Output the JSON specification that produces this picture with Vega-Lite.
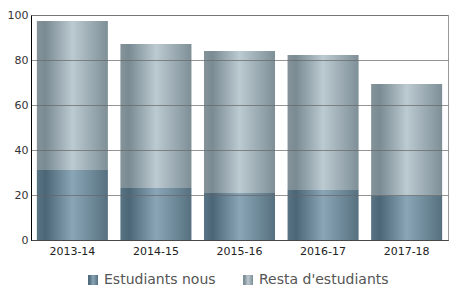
{
  "$schema": "https://vega.github.io/schema/vega-lite/v6.json",
  "autosize": "none",
  "width": 417,
  "height": 225,
  "padding": {"left": 31, "top": 15, "right": 8, "bottom": 65},
  "background": "white",
  "config": {
    "font": "DejaVu Sans",
    "view": {"stroke": "#999999", "strokeWidth": 1}
  },
  "data": {
    "values": [
      {"curs": "2013-14", "serie": "Estudiants nous", "valor": 31.1},
      {"curs": "2013-14", "serie": "Resta d'estudiants", "valor": 66.2},
      {"curs": "2014-15", "serie": "Estudiants nous", "valor": 23.1},
      {"curs": "2014-15", "serie": "Resta d'estudiants", "valor": 64.0},
      {"curs": "2015-16", "serie": "Estudiants nous", "valor": 20.9},
      {"curs": "2015-16", "serie": "Resta d'estudiants", "valor": 63.1},
      {"curs": "2016-17", "serie": "Estudiants nous", "valor": 22.2},
      {"curs": "2016-17", "serie": "Resta d'estudiants", "valor": 60.0},
      {"curs": "2017-18", "serie": "Estudiants nous", "valor": 19.9},
      {"curs": "2017-18", "serie": "Resta d'estudiants", "valor": 49.4}
    ]
  },
  "transform": [
    {"stack": "valor", "groupby": ["curs"], "sort": [{"field": "serie", "order": "ascending"}], "as": ["v0", "v1"]}
  ],
  "encoding": {
    "x": {
      "field": "curs", "type": "nominal",
      "scale": {"paddingInner": 0.15, "paddingOuter": 0.07},
      "axis": {"title": null, "labelAngle": 0, "ticks": false, "labelPadding": 5, "labelFontSize": 11, "labelColor": "#222222", "domainColor": "#000000", "grid": false}
    },
    "y": {
      "field": "v1", "type": "quantitative",
      "scale": {"domain": [0, 100], "nice": false},
      "axis": {"title": null, "values": [0, 20, 40, 60, 80, 100], "ticks": false, "labelPadding": 3, "labelFontSize": 11, "labelColor": "#333333", "domainColor": "#000000", "gridColor": "#666666", "gridOpacity": 0.7, "zindex": 1}
    },
    "y2": {"field": "v0"}
  },
  "layer": [
    {
      "transform": [{"filter": "datum.serie === 'Estudiants nous'"}],
      "mark": {"type": "bar", "strokeWidth": 0, "fill": {"gradient": "linear", "x1": 0, "y1": 0, "x2": 1, "y2": 0, "stops": [
          {"offset": 0, "color": "#587485"},
          {"offset": 0.12, "color": "#4b6677"},
          {"offset": 0.5, "color": "#8aa6b6"},
          {"offset": 1, "color": "#56707f"}
        ]}},
      "encoding": {
        "stroke": {
          "field": "serie", "type": "nominal",
          "scale": {"domain": ["Estudiants nous"], "range": ["#5f7b8c"]},
          "legend": {
            "title": null, "orient": "none", "direction": "horizontal",
            "legendX": 55, "legendY": 258,
            "symbolType": "square", "symbolSize": 100, "symbolStrokeWidth": 0,
            "labelFontSize": 14, "labelColor": "#555555", "labelOffset": 4,
            "encode": {"symbols": {"strokeWidth": {"value": 0}}}
          }
        }
      }
    },
    {
      "transform": [{"filter": "datum.serie === 'Resta d\\'estudiants'"}],
      "mark": {"type": "bar", "strokeWidth": 0, "fill": {"gradient": "linear", "x1": 0, "y1": 0, "x2": 1, "y2": 0, "stops": [
          {"offset": 0, "color": "#859399"},
          {"offset": 0.12, "color": "#7a8b93"},
          {"offset": 0.5, "color": "#bccad1"},
          {"offset": 1, "color": "#7e8f97"}
        ]}},
      "encoding": {
        "stroke": {
          "field": "serie", "type": "nominal",
          "scale": {"domain": ["Resta d'estudiants"], "range": ["#9cadb5"]},
          "legend": {
            "title": null, "orient": "none", "direction": "horizontal",
            "legendX": 210, "legendY": 258,
            "symbolType": "square", "symbolSize": 100, "symbolStrokeWidth": 0,
            "labelFontSize": 14, "labelColor": "#555555", "labelOffset": 4,
            "encode": {"symbols": {"strokeWidth": {"value": 0}}}
          }
        }
      }
    }
  ],
  "resolve": {"scale": {"stroke": "independent"}, "legend": {"stroke": "independent"}}
}
